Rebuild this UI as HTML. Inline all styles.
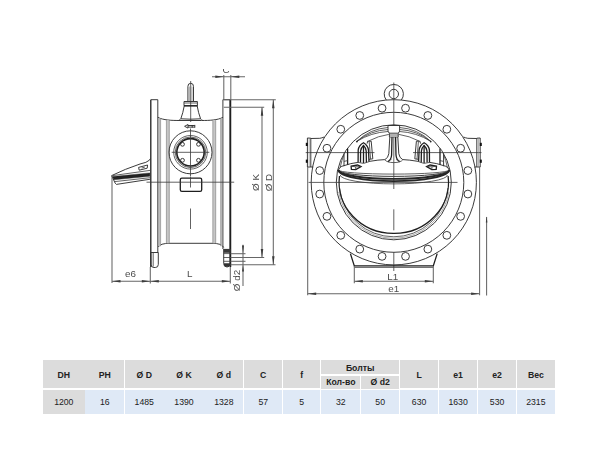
<!DOCTYPE html>
<html lang="ru"><head><meta charset="utf-8"><title>Чертёж</title>
<style>
html,body{margin:0;padding:0;background:#fff;}
body{width:600px;height:450px;position:relative;overflow:hidden;font-family:"Liberation Sans",Arial,sans-serif;}
svg.dr{position:absolute;left:0;top:0;filter:blur(0.3px);}
.m{fill:none;stroke:#303030;stroke-width:0.95;}
.k{fill:none;stroke:#1e1e1e;stroke-width:1.3;}
.kk{fill:none;stroke:#262626;stroke-width:1.9;}
.n{fill:none;stroke:#3a3a3a;stroke-width:0.8;}
.d{fill:none;stroke:#666;stroke-width:1.05;}
.g{fill:none;stroke:#777;stroke-width:0.6;}
.fill{fill:#222;stroke:#222;stroke-width:0.4;}
.ar{fill:#3c3c3c;stroke:none;}
.t{font-family:"Liberation Sans",Arial,sans-serif;fill:#4c4c4c;text-anchor:middle;}
.c{position:absolute;text-align:center;font-size:8.7px;color:#222;white-space:nowrap;}
.h{background:#dcdcdc;font-weight:bold;}
.h0{background:#dcdcdc;}
.v{background:#dfe9f6;}
</style></head><body>
<svg class="dr" width="600" height="450" viewBox="0 0 600 450">
<path class="k" d="M150.8,267 L150.8,99.7"/>
<path class="m" d="M150.8,99.7 L157.8,99.7 L157.8,118"/>
<line class="m" x1="157.80" y1="118.00" x2="157.80" y2="252.50"/>
<path class="k" d="M230.6,99.7 L230.6,267"/>
<path class="m" d="M222.9,118 L222.9,99.7 L230.6,99.7"/>
<line class="m" x1="222.90" y1="118.00" x2="222.90" y2="249.00"/>
<line class="n" x1="229.60" y1="99.70" x2="229.60" y2="266.00"/>
<path class="m" d="M157.8,117.3 C163,120.2 172,120.5 180,120.5 L201.4,120.5 C209,120.5 218,120.2 222.9,117.3"/>
<path class="m" d="M158.3,247 Q160,243.3 170,243.3 L212,243.3 Q222,243.3 223.7,247.5"/>
<rect x="158.90" y="118.40" width="1.70" height="127.80" fill="#d0d0d0"/>
<line class="g" x1="158.90" y1="118.40" x2="158.90" y2="246.20"/>
<line class="g" x1="160.60" y1="118.40" x2="160.60" y2="246.20"/>
<rect x="166.40" y="120.20" width="2.90" height="123.10" fill="#c6c6c6"/>
<line class="g" x1="166.40" y1="120.20" x2="166.40" y2="243.30"/>
<line class="g" x1="169.30" y1="120.20" x2="169.30" y2="243.30"/>
<rect x="212.80" y="120.20" width="2.90" height="123.10" fill="#c6c6c6"/>
<line class="g" x1="212.80" y1="120.20" x2="212.80" y2="243.30"/>
<line class="g" x1="215.70" y1="120.20" x2="215.70" y2="243.30"/>
<rect x="220.70" y="118.40" width="1.50" height="127.80" fill="#d0d0d0"/>
<line class="g" x1="220.70" y1="118.40" x2="220.70" y2="246.20"/>
<line class="g" x1="222.20" y1="118.40" x2="222.20" y2="246.20"/>
<path class="m" d="M150.8,252.5 L158.3,252.5 L158.3,264.5 Q158.3,267.5 155.3,267.5 L154,267.5 Q151,267.5 151,264.5 Z"/>
<line class="n" x1="153.20" y1="253.00" x2="153.20" y2="266.50"/>
<path class="m" d="M223.7,249 L223.7,263.5 Q223.7,267 227,267 Q230.6,267 230.6,263.5"/>
<rect x="223.7" y="248.9" width="6.9" height="3.9" fill="#3a3a3a"/>
<path d="M223.9,263.2 L230.4,263.2 L230.4,264.4 Q230.2,266.8 227.2,266.8 Q224.1,266.8 223.9,264.4 Z" fill="#333"/>
<line class="n" x1="223.70" y1="253.60" x2="230.60" y2="253.60"/>
<line class="n" x1="223.70" y1="257.50" x2="230.60" y2="257.50"/>
<line class="n" x1="223.70" y1="261.30" x2="230.60" y2="261.30"/>
<line class="n" x1="190.70" y1="81.00" x2="190.70" y2="122.00"/>
<path class="m" d="M187.9,101.3 L187.9,86.4 Q187.9,83.3 190.7,83.3 Q193.5,83.3 193.5,86.4 L193.5,101.3"/>
<line class="g" x1="189.40" y1="86.50" x2="189.40" y2="101.30"/>
<line class="g" x1="192.00" y1="86.50" x2="192.00" y2="101.30"/>
<path class="m" d="M184,101.5 L197.4,101.5 L197.4,105.8 L184,105.8 Z"/>
<line class="n" x1="184.20" y1="103.00" x2="197.20" y2="103.00"/>
<line class="k" x1="184.00" y1="105.80" x2="197.40" y2="105.80"/>
<path class="m" d="M184.2,106 Q183,113 180.8,118.8 M197.2,106 Q198.4,113 200.6,118.8"/>
<path class="m" d="M180.8,118.8 Q190.7,119.6 200.6,118.8"/>
<path class="n" d="M180.8,118.8 Q180,120 178.6,120.4 M200.6,118.8 Q201.4,120 202.8,120.4"/>
<circle class="m" cx="190.50" cy="152.30" r="21.50"/>
<circle class="n" cx="190.50" cy="152.30" r="16.80"/>
<circle class="n" cx="190.50" cy="152.30" r="15.30"/>
<circle cx="190.5" cy="152.3" r="13.7" fill="none" stroke="#1e1e1e" stroke-width="1.6"/>
<circle class="m" cx="182.50" cy="144.30" r="1.90"/>
<circle class="m" cx="182.50" cy="160.30" r="1.90"/>
<circle class="m" cx="198.50" cy="144.30" r="1.90"/>
<circle class="m" cx="198.50" cy="160.30" r="1.90"/>
<line class="n" x1="171.70" y1="152.30" x2="209.30" y2="152.30"/>
<line class="n" x1="190.50" y1="128.50" x2="190.50" y2="176.50"/>
<path class="m" d="M184.6,126.3 L188,124.5 L188,128.1 Z M188,125.5 L194.8,125.5 M188,127.1 L194.8,127.1 M194.8,124.9 L194.8,127.7 M192.2,125 L192.2,127.6"/>
<rect class="k" x="180.3" y="178.2" width="21.4" height="13.2" rx="1.6" ry="1.6"/>
<line class="n" x1="146.50" y1="182.20" x2="234.20" y2="182.20"/>
<line class="n" x1="190.50" y1="177.00" x2="190.50" y2="187.50"/>
<line class="n" x1="190.50" y1="208.50" x2="190.50" y2="229.00"/>
<path class="m" d="M111.6,175.6 Q125,169 140,164 Q147,162.6 149.4,160.2 L150.4,158.6"/>
<path class="m" d="M111.6,175.6 L115.2,183.2 L116.4,184.4 L150.4,179.2"/>
<path class="fill" d="M112.4,176.6 L149.9,172.9 L149.9,176.3 L113.9,179.8 Z"/>
<path class="n" d="M112.6,175.6 L150,170.4"/>
<path class="n" d="M114.8,181.6 L150.2,177.7"/>
<path class="m" d="M138.6,167.4 L147.6,165 L147.2,168.2 L139.2,170.2 Z"/>
<path class="n" d="M141.6,168 L144.8,167.2"/>
<line class="d" x1="112.00" y1="176.00" x2="112.00" y2="283.00"/>
<line class="d" x1="150.30" y1="267.00" x2="150.30" y2="283.50"/>
<line class="d" x1="230.30" y1="267.00" x2="230.30" y2="283.50"/>
<line class="d" x1="112.00" y1="281.30" x2="230.30" y2="281.30"/>
<polygon class="ar" points="112.00,281.30 120.50,280.05 120.50,282.55"/>
<polygon class="ar" points="150.30,281.30 141.80,282.55 141.80,280.05"/>
<polygon class="ar" points="150.30,281.30 158.80,280.05 158.80,282.55"/>
<polygon class="ar" points="230.30,281.30 221.80,282.55 221.80,280.05"/>
<text class="t" x="130.50" y="277.30" font-size="9.8">e6</text>
<text class="t" x="189.80" y="277.30" font-size="9.8">L</text>
<line class="d" x1="223.80" y1="75.00" x2="223.80" y2="99.70"/>
<line class="d" x1="230.80" y1="75.00" x2="230.80" y2="99.70"/>
<line class="d" x1="212.00" y1="76.70" x2="245.00" y2="76.70"/>
<polygon class="ar" points="223.80,76.70 215.30,77.95 215.30,75.45"/>
<polygon class="ar" points="230.80,76.70 239.30,75.45 239.30,77.95"/>
<clipPath id="cc"><rect x="218" y="69.0" width="16" height="6"/></clipPath><g clip-path="url(#cc)"><text class="t" x="226" y="73.2" font-size="9.8">C</text></g>
<line class="d" x1="223.80" y1="99.70" x2="275.80" y2="99.70"/>
<line class="d" x1="223.80" y1="107.20" x2="264.20" y2="107.20"/>
<line class="d" x1="230.60" y1="257.50" x2="264.20" y2="257.50"/>
<line class="d" x1="230.60" y1="264.70" x2="275.50" y2="264.70"/>
<line class="d" x1="230.60" y1="253.70" x2="245.50" y2="253.70"/>
<line class="d" x1="230.60" y1="261.30" x2="245.50" y2="261.30"/>
<line class="d" x1="262.00" y1="107.20" x2="262.00" y2="257.50"/>
<line class="d" x1="273.30" y1="99.70" x2="273.30" y2="264.70"/>
<polygon class="ar" points="262.00,107.20 263.25,115.70 260.75,115.70"/>
<polygon class="ar" points="262.00,257.50 260.75,249.00 263.25,249.00"/>
<polygon class="ar" points="273.30,99.70 274.55,108.20 272.05,108.20"/>
<polygon class="ar" points="273.30,264.70 272.05,256.20 274.55,256.20"/>
<line class="d" x1="243.00" y1="244.70" x2="243.00" y2="286.00"/>
<polygon class="ar" points="243.00,253.50 242.00,245.50 244.00,245.50"/>
<polygon class="ar" points="243.00,264.90 244.00,271.40 242.00,271.40"/>
<text class="t" x="259.20" y="182.50" font-size="9.8" transform="rotate(-90 259.20 182.50)">Ø K</text>
<text class="t" x="271.60" y="182.50" font-size="9.8" transform="rotate(-90 271.60 182.50)">Ø D</text>
<text class="t" x="240.00" y="280.50" font-size="9.8" transform="rotate(-90 240.00 280.50)">Ø d2</text>
<path class="m" d="M386.30,100.05 A9.6,9.6 0 1 1 401.30,100.05"/>
<circle class="m" cx="393.80" cy="94.00" r="4.70"/>
<circle class="m" cx="393.80" cy="182.30" r="82.60"/>
<circle class="m" cx="393.80" cy="182.30" r="70.00"/>
<circle class="m" cx="405.53" cy="108.22" r="3.90"/>
<circle class="m" cx="427.85" cy="115.47" r="3.90"/>
<circle class="m" cx="446.83" cy="129.27" r="3.90"/>
<circle class="m" cx="460.63" cy="148.25" r="3.90"/>
<circle class="m" cx="467.88" cy="170.57" r="3.90"/>
<circle class="m" cx="467.88" cy="194.03" r="3.90"/>
<circle class="m" cx="460.63" cy="216.35" r="3.90"/>
<circle class="m" cx="446.83" cy="235.33" r="3.90"/>
<circle class="m" cx="427.85" cy="249.13" r="3.90"/>
<circle class="m" cx="405.53" cy="256.38" r="3.90"/>
<circle class="m" cx="382.07" cy="256.38" r="3.90"/>
<circle class="m" cx="359.75" cy="249.13" r="3.90"/>
<circle class="m" cx="340.77" cy="235.33" r="3.90"/>
<circle class="m" cx="326.97" cy="216.35" r="3.90"/>
<circle class="m" cx="319.72" cy="194.03" r="3.90"/>
<circle class="m" cx="319.72" cy="170.57" r="3.90"/>
<circle class="m" cx="326.97" cy="148.25" r="3.90"/>
<circle class="m" cx="340.77" cy="129.27" r="3.90"/>
<circle class="m" cx="359.75" cy="115.47" r="3.90"/>
<circle class="m" cx="382.07" cy="108.22" r="3.90"/>
<circle class="m" cx="393.80" cy="182.30" r="57.50"/>
<line class="n" x1="393.80" y1="82.50" x2="393.80" y2="125.50"/>
<line class="n" x1="393.80" y1="137.00" x2="393.80" y2="189.00"/>
<line class="n" x1="393.80" y1="209.30" x2="393.80" y2="230.30"/>
<line class="n" x1="393.80" y1="252.00" x2="393.80" y2="271.00"/>
<line class="n" x1="308.50" y1="182.40" x2="457.50" y2="182.40"/>
<line class="n" x1="305.70" y1="152.60" x2="374.50" y2="152.60"/>
<line class="n" x1="413.00" y1="152.60" x2="481.50" y2="152.60"/>
<path class="m" d="M307.40,138 L307.40,167 L310.80,167 L310.80,138.2 Z"/>
<line class="g" x1="309.20" y1="138.20" x2="309.20" y2="167.00"/>
<path class="m" d="M310.80,138.5 L319.80,138.3 Q321.80,138 324.20,137"/>
<line class="m" x1="310.80" y1="167.00" x2="313.30" y2="167.00"/>
<rect x="305.80" y="142.8" width="2" height="3.2" fill="#111"/>
<rect x="305.80" y="159.6" width="2" height="3.2" fill="#111"/>
<path class="m" d="M480.20,138 L480.20,167 L476.80,167 L476.80,138.2 Z"/>
<line class="g" x1="478.40" y1="138.20" x2="478.40" y2="167.00"/>
<path class="m" d="M476.80,138.5 L467.80,138.3 Q465.80,138 463.40,137"/>
<line class="m" x1="476.80" y1="167.00" x2="474.30" y2="167.00"/>
<rect x="479.80" y="142.8" width="2" height="3.2" fill="#111"/>
<rect x="479.80" y="159.6" width="2" height="3.2" fill="#111"/>
<path class="k" d="M350.40,253.6 L354.30,265.9 L433.30,265.9 L437.20,253.6"/>
<line class="n" x1="354.30" y1="267.40" x2="433.30" y2="267.40"/>
<line class="d" x1="354.30" y1="266.00" x2="354.30" y2="283.30"/>
<line class="d" x1="433.30" y1="266.00" x2="433.30" y2="283.30"/>
<line class="d" x1="354.30" y1="281.20" x2="433.30" y2="281.20"/>
<polygon class="ar" points="354.30,281.20 362.80,279.95 362.80,282.45"/>
<polygon class="ar" points="433.30,281.20 424.80,282.45 424.80,279.95"/>
<line class="d" x1="307.70" y1="167.00" x2="307.70" y2="295.30"/>
<line class="d" x1="479.60" y1="167.00" x2="479.60" y2="295.30"/>
<line class="d" x1="307.70" y1="293.70" x2="479.60" y2="293.70"/>
<polygon class="ar" points="307.70,293.70 316.20,292.45 316.20,294.95"/>
<polygon class="ar" points="479.60,293.70 471.10,294.95 471.10,292.45"/>
<text class="t" x="392.80" y="279.60" font-size="9.8">L1</text>
<text class="t" x="393.80" y="291.80" font-size="9.8">e1</text>
<line class="d" x1="486.60" y1="217.00" x2="486.60" y2="295.50"/>
<polygon class="ar" points="486.60,216.50 487.40,222.50 485.80,222.50"/>
<path class="n" d="M356.90,141.30 A50,50 0 0 1 388.00,127.5"/>
<path class="n" d="M356.90,141.30 A55,55 0 0 1 388.00,129.5"/>
<path class="n" d="M356.90,141.30 A66,66 0 0 1 388.00,131.5"/>
<path class="n" d="M368.60,141 A62,62 0 0 1 388.80,134.4"/>
<circle cx="356.90" cy="141.60" r="0.9" fill="#222"/>
<path class="m" d="M389.80,137 L388.80,153.7 Q388.20,158 384.80,159.7"/>
<path class="k" d="M392.00,137 L391.60,155 Q391.20,160 388.00,161.6"/>
<path class="n" d="M384.80,159.7 Q386.80,162.6 393.80,162.6"/>
<path class="n" d="M388.00,161.6 Q388.80,159.4 391.40,159.6"/>
<path class="m" d="M389.40,133.2 L389.40,137"/>
<path class="k" d="M358.10,162.4 L358.20,150 Q358.80,145.4 363.50,142.8 Q367.80,145.4 368.50,150 L369.00,161.6"/>
<path class="k" d="M360.50,162.6 L360.60,151 Q361.20,147.4 363.50,145.4 Q365.60,147.4 366.20,151 L366.40,162.4"/>
<line class="k" x1="363.50" y1="145.60" x2="363.50" y2="163.00"/>
<path class="n" d="M357.90,162.4 Q363.80,164.8 369.20,161.6"/>
<path class="m" d="M367.10,143.6 L367.60,141.2 L371.20,141.2 L372.80,158.8 L369.00,159.4"/>
<line class="n" x1="369.20" y1="141.60" x2="370.60" y2="159.00"/>
<line class="k" x1="347.60" y1="148.40" x2="347.60" y2="165.00"/>
<path class="m" d="M344.00,153.4 L344.00,166.2"/>
<line class="n" x1="344.00" y1="161.40" x2="347.60" y2="160.60"/>
<path class="n" d="M340.20,167.4 Q341.80,160 343.80,155"/>
<path class="k" d="M351.10,166.2 L357.50,165 L361.00,166.6 L355.80,169.6 L351.40,169.4 Z"/>
<path class="n" d="M351.10,166.2 L355.60,166.8 L355.80,169.6 M355.60,166.8 L361.00,166.6"/>
<path class="m" d="M338.50,170 Q339.20,167.4 341.80,166.3 Q351.80,162.9 357.90,162.4 M369.20,161.4 Q378.80,159.8 384.80,159.6"/>
<path class="n" d="M430.70,141.30 A50,50 0 0 0 399.60,127.5"/>
<path class="n" d="M430.70,141.30 A55,55 0 0 0 399.60,129.5"/>
<path class="n" d="M430.70,141.30 A66,66 0 0 0 399.60,131.5"/>
<path class="n" d="M419.00,141 A62,62 0 0 0 398.80,134.4"/>
<circle cx="430.70" cy="141.60" r="0.9" fill="#222"/>
<path class="m" d="M397.80,137 L398.80,153.7 Q399.40,158 402.80,159.7"/>
<path class="k" d="M395.60,137 L396.00,155 Q396.40,160 399.60,161.6"/>
<path class="n" d="M402.80,159.7 Q400.80,162.6 393.80,162.6"/>
<path class="n" d="M399.60,161.6 Q398.80,159.4 396.20,159.6"/>
<path class="m" d="M398.20,133.2 L398.20,137"/>
<path class="k" d="M429.50,162.4 L429.40,150 Q428.80,145.4 424.10,142.8 Q419.80,145.4 419.10,150 L418.60,161.6"/>
<path class="k" d="M427.10,162.6 L427.00,151 Q426.40,147.4 424.10,145.4 Q422.00,147.4 421.40,151 L421.20,162.4"/>
<line class="k" x1="424.10" y1="145.60" x2="424.10" y2="163.00"/>
<path class="n" d="M429.70,162.4 Q423.80,164.8 418.40,161.6"/>
<path class="m" d="M420.50,143.6 L420.00,141.2 L416.40,141.2 L414.80,158.8 L418.60,159.4"/>
<line class="n" x1="418.40" y1="141.60" x2="417.00" y2="159.00"/>
<line class="k" x1="440.00" y1="148.40" x2="440.00" y2="165.00"/>
<path class="m" d="M443.60,153.4 L443.60,166.2"/>
<line class="n" x1="443.60" y1="161.40" x2="440.00" y2="160.60"/>
<path class="n" d="M447.40,167.4 Q445.80,160 443.80,155"/>
<path class="k" d="M436.50,166.2 L430.10,165 L426.60,166.6 L431.80,169.6 L436.20,169.4 Z"/>
<path class="n" d="M436.50,166.2 L432.00,166.8 L431.80,169.6 M432.00,166.8 L426.60,166.6"/>
<path class="m" d="M449.10,170 Q448.40,167.4 445.80,166.3 Q435.80,162.9 429.70,162.4 M418.40,161.4 Q408.80,159.8 402.80,159.6"/>
<path class="m" d="M388.00,125.5 L399.60,125.5 L399.60,131 Q399.40,133 397.60,133.2 L390.00,133.2 Q388.20,133 388.00,131 Z"/>
<line class="n" x1="389.40" y1="135.00" x2="398.20" y2="135.00"/>
<line class="n" x1="389.60" y1="137.00" x2="398.00" y2="137.00"/>
<path class="n" d="M338.50,170.00 A55.30,4.10 0 0 0 449.10,170.00"/>
<path class="m" d="M338.50,170.00 A55.30,6.40 0 0 0 449.10,170.00"/>
<path class="kk" d="M338.50,170.00 A55.30,8.90 0 0 0 449.10,170.00"/>
<path class="kk" d="M338.50,170.00 A55.30,11.10 0 0 0 449.10,170.00"/>
<path class="n" d="M340.20,175.00 A53.60,8.90 0 0 0 447.40,175.00"/>
<path class="n" d="M448.00,188.00 A54.50,54.50 0 0 1 339.60,188.00"/>
<path class="g" d="M448.95,192.02 A56.00,56.00 0 0 1 338.65,192.02"/>
<path class="k" d="M339.50,176 A54.3,51.1 0 0 0 393.80,233.4 A54.3,51.1 0 0 0 448.10,176"/>
</svg>
<div class="tb">
<div class="c h" style="left:43.00px;top:360.30px;width:41.60px;height:28.20px;line-height:31.00px">DH</div>
<div class="c h0" style="left:43.00px;top:389.50px;width:41.60px;height:24.70px;line-height:24.90px">1200</div>
<div class="c h" style="left:85.40px;top:360.30px;width:38.70px;height:28.20px;line-height:31.00px">PH</div>
<div class="c v" style="left:85.40px;top:389.50px;width:38.70px;height:24.70px;line-height:24.90px">16</div>
<div class="c h" style="left:124.90px;top:360.30px;width:38.70px;height:28.20px;line-height:31.00px">Ø D</div>
<div class="c v" style="left:124.90px;top:389.50px;width:38.70px;height:24.70px;line-height:24.90px">1485</div>
<div class="c h" style="left:164.40px;top:360.30px;width:39.20px;height:28.20px;line-height:31.00px">Ø K</div>
<div class="c v" style="left:164.40px;top:389.50px;width:39.20px;height:24.70px;line-height:24.90px">1390</div>
<div class="c h" style="left:204.40px;top:360.30px;width:38.90px;height:28.20px;line-height:31.00px">Ø d</div>
<div class="c v" style="left:204.40px;top:389.50px;width:38.90px;height:24.70px;line-height:24.90px">1328</div>
<div class="c h" style="left:244.10px;top:360.30px;width:38.30px;height:28.20px;line-height:31.00px">C</div>
<div class="c v" style="left:244.10px;top:389.50px;width:38.30px;height:24.70px;line-height:24.90px">57</div>
<div class="c h" style="left:283.20px;top:360.30px;width:37.20px;height:28.20px;line-height:31.00px">f</div>
<div class="c v" style="left:283.20px;top:389.50px;width:37.20px;height:24.70px;line-height:24.90px">5</div>
<div class="c v" style="left:321.20px;top:389.50px;width:39.20px;height:24.70px;line-height:24.90px">32</div>
<div class="c v" style="left:361.20px;top:389.50px;width:37.90px;height:24.70px;line-height:24.90px">50</div>
<div class="c h" style="left:399.90px;top:360.30px;width:38.40px;height:28.20px;line-height:31.00px">L</div>
<div class="c v" style="left:399.90px;top:389.50px;width:38.40px;height:24.70px;line-height:24.90px">630</div>
<div class="c h" style="left:439.10px;top:360.30px;width:38.00px;height:28.20px;line-height:31.00px">e1</div>
<div class="c v" style="left:439.10px;top:389.50px;width:38.00px;height:24.70px;line-height:24.90px">1630</div>
<div class="c h" style="left:477.90px;top:360.30px;width:38.40px;height:28.20px;line-height:31.00px">e2</div>
<div class="c v" style="left:477.90px;top:389.50px;width:38.40px;height:24.70px;line-height:24.90px">530</div>
<div class="c h" style="left:517.10px;top:360.30px;width:37.50px;height:28.20px;line-height:31.00px">Вес</div>
<div class="c v" style="left:517.10px;top:389.50px;width:37.50px;height:24.70px;line-height:24.90px">2315</div>
<div class="c h" style="left:321.30px;top:360.30px;width:77.70px;height:14.20px;line-height:17.00px">Болты</div>
<div class="c h" style="left:321.30px;top:375.50px;width:39.00px;height:13.00px;line-height:13.60px">Кол-во</div>
<div class="c h" style="left:361.30px;top:375.50px;width:37.70px;height:13.00px;line-height:13.60px">Ø d2</div>
</div>
</body></html>
